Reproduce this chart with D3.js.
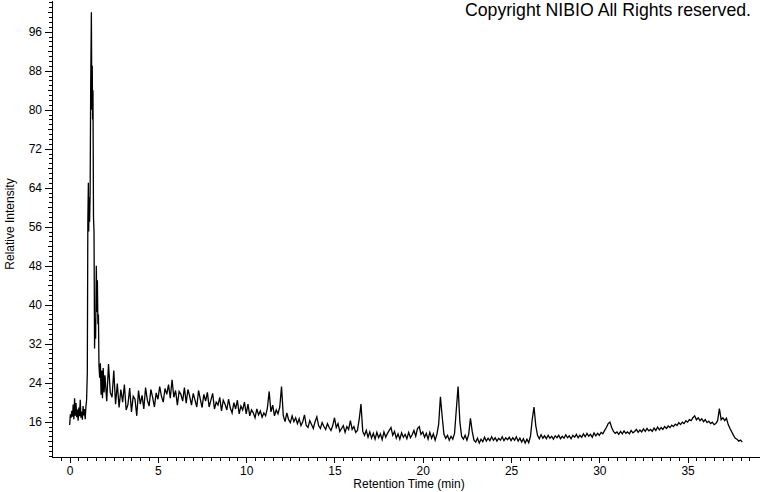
<!DOCTYPE html>
<html>
<head>
<meta charset="utf-8">
<script src="https://cdn.jsdelivr.net/npm/d3@7"></script>
<style>
  body { margin: 0; background: #fff; }
  svg { display: block; }
</style>
</head>
<body>
<div id="chart"></div>
<script>
var width = 760;
var height = 492;

// tick labels
var xTickLabels = [0, 5, 10, 15, 20, 25, 30, 35];
var yTickLabels = [16, 24, 32, 40, 48, 56, 64, 72, 80, 88, 96];

// start of the run, read point by point (min, relative intensity)
var earlyTimes = [0.00, 0.04, 0.08, 0.12, 0.16, 0.20, 0.24, 0.28, 0.32, 0.36,
  0.40, 0.44, 0.48, 0.52, 0.56, 0.60, 0.64, 0.68, 0.72, 0.76,
  0.80, 0.84, 0.88, 0.92, 0.96, 1.00, 1.03, 1.06, 1.08, 1.10,
  1.13, 1.16, 1.19, 1.23, 1.26, 1.28, 1.30, 1.32, 1.35, 1.38,
  1.41, 1.44, 1.47, 1.51, 1.54, 1.57, 1.60, 1.63, 1.66, 1.70,
  1.74, 1.78, 1.82, 1.86, 1.90, 1.95];
var earlyValues = [15.3, 17.5, 16.8, 18.2, 17.0, 19.5, 16.5, 20.8, 17.2, 19.8,
  16.9, 18.5, 16.2, 18.9, 17.1, 20.5, 16.8, 18.0, 16.4, 19.2,
  17.3, 18.6, 16.5, 19.0, 20.5, 26.0, 57.0, 65.0, 55.0, 62.0,
  57.0, 63.0, 84.0, 100.0, 80.0, 89.0, 78.0, 84.0, 58.0, 55.0,
  31.0, 37.0, 33.0, 48.0, 38.5, 45.0, 36.0, 38.0, 27.6, 25.0,
  28.0, 21.5, 26.5, 20.8, 27.0, 22.0];

// rest of the run, one reading every 0.1 min from 2.0 min
var scanStart = 2.0;
var scanStep = 0.1;
var scanValues = [
  25.5, 20.2, 27.8, 22.0, 21.0, 26.5, 19.6, 23.8, 18.9, 22.6,   // 2
  20.0, 23.6, 18.4, 19.5, 22.9, 18.0, 21.2, 20.6, 17.2, 22.4,   // 3
  19.6, 21.4, 18.6, 23.0, 20.4, 19.2, 22.6, 21.0, 19.0, 21.9,   // 4
  20.6, 23.2, 21.2, 20.0, 22.8, 21.6, 23.6, 20.8, 24.6, 21.0,   // 5
  22.4, 19.4, 22.2, 21.6, 20.2, 23.0, 19.8, 22.6, 21.2, 19.4,   // 6
  21.8, 20.4, 19.0, 22.4, 20.6, 18.9, 21.6, 20.2, 22.0, 19.0,   // 7
  20.4, 21.8, 18.6, 20.0, 19.4, 21.0, 18.2, 20.4, 19.6, 18.4,   // 8
  20.6, 18.8, 17.8, 19.9, 18.6, 20.4, 17.6, 19.2, 18.4, 20.0,   // 9
  17.6, 19.6, 17.2, 18.4, 17.8, 16.8, 18.6, 17.4, 18.2, 16.9,   // 10
  17.8, 17.2, 18.8, 22.2, 18.0, 19.4, 17.2, 18.4, 17.6, 19.0,   // 11
  23.2, 17.2, 16.0, 17.8, 16.4, 15.8, 17.2, 16.0, 16.8, 15.6,   // 12
  16.6, 15.2, 16.0, 17.4, 15.2, 14.8, 16.2, 15.4, 14.6, 16.0,   // 13
  17.0, 15.2, 14.6, 15.8, 15.0, 14.4, 15.6, 14.8, 14.2, 15.2,   // 14
  16.8, 14.8, 15.6, 14.0, 14.6, 15.2, 13.8, 15.0, 14.4, 16.2,   // 15
  14.4, 15.0, 13.8, 14.2, 16.5, 19.6, 14.0, 13.2, 14.2, 12.8,   // 16
  13.9, 12.6, 13.6, 12.4, 13.8, 12.7, 13.5, 12.3, 13.9, 12.8,   // 17
  13.6, 14.2, 14.8, 13.2, 14.0, 12.6, 13.5, 12.4, 13.7, 12.8,   // 18
  13.4, 12.5, 13.8, 12.7, 13.3, 14.2, 13.0, 14.6, 15.0, 13.4,   // 19
  13.9, 12.8, 13.6, 12.4, 13.8, 12.6, 13.5, 12.2, 13.4, 15.5,   // 20
  21.1, 17.0, 13.4, 12.6, 13.2, 12.2, 13.0, 12.4, 13.6, 18.5,   // 21
  23.2, 16.0, 13.0, 12.4, 13.2, 12.2, 13.4, 16.7, 14.0, 12.2,   // 22
  11.8, 12.6, 11.6, 12.4, 11.9, 12.8, 12.0, 12.6, 12.1, 12.9,   // 23
  12.2, 12.7, 12.0, 12.6, 12.2, 12.9, 12.1, 12.7, 12.3, 12.8,   // 24
  12.1, 12.7, 12.2, 12.9, 12.0, 12.6, 11.8, 12.5, 11.6, 12.4,   // 25
  11.7, 13.0, 16.5, 19.0, 15.2, 13.2, 12.5, 13.3, 12.6, 13.1,   // 26
  12.5, 13.2, 12.6, 13.0, 12.4, 13.1, 12.7, 13.2, 12.5, 13.0,   // 27
  12.6, 13.3, 12.7, 13.1, 12.5, 13.2, 12.8, 13.4, 12.7, 13.2,   // 28
  12.8, 13.5, 12.9, 13.6, 13.0, 13.4, 12.8, 13.7, 13.1, 13.6,   // 29
  13.2, 13.8, 13.5, 14.2, 14.8, 15.6, 15.9, 14.8, 14.0, 13.6,   // 30
  13.9, 13.4, 14.0, 13.5, 14.1, 13.6, 13.9, 13.5, 14.2, 13.7,   // 31
  14.0, 14.4, 13.8, 14.3, 13.9, 14.5, 14.0, 14.6, 14.1, 14.4,   // 32
  14.0, 14.7, 14.2, 14.9, 14.3, 14.8, 14.4, 15.0, 14.6, 15.1,   // 33
  14.8, 15.3, 15.0, 15.5, 15.2, 15.8, 15.4, 15.9, 15.6, 16.2,   // 34
  15.9, 16.4, 16.2, 16.8, 17.2, 16.4, 16.8, 16.2, 16.6, 16.0,   // 35
  16.4, 15.8, 16.1, 15.6, 15.9, 15.4, 15.6, 16.2, 18.7, 16.4,   // 36
  16.8, 16.2, 16.7, 15.4, 14.6, 13.9, 13.2, 12.6, 12.4, 12.0,   // 37
  12.2, 11.8                                                    // 38
];

var trace = earlyTimes.map(function(t, i) {
  return { t: t, v: earlyValues[i] };
}).concat(scanValues.map(function(v, i) {
  return { t: scanStart + i * scanStep, v: v };
}));

var xScale = d3.scaleLinear()
  .domain([-1, 39.1])
  .range([52, 760]);

var yScale = d3.scaleLinear()
  .domain([8.75, 102.5])
  .range([457, 0]);

var svg = d3.select("#chart")
  .append("svg")
  .attr("width", width)
  .attr("height", height)
  .style("font-family", "'Liberation Sans', Arial, sans-serif");

svg.append("rect")
  .attr("width", width)
  .attr("height", height)
  .attr("fill", "#fff");

////////////////////////// axes //////////////////////////

function styleAxis(g) {
  g.attr("font-family", null).attr("font-size", null);
  g.selectAll("path, line").attr("stroke", "#000").attr("shape-rendering", "crispEdges");
  g.selectAll("text").attr("fill", "#000").style("font-size", "12px");
}

// minor ticks
svg.append("g")
  .attr("transform", "translate(0,457)")
  .call(d3.axisBottom(xScale)
    .tickValues(d3.range(-0.5, 39, 0.5))
    .tickSize(4).tickSizeOuter(0).tickFormat(""))
  .call(styleAxis);

svg.append("g")
  .attr("transform", "translate(52,0)")
  .call(d3.axisLeft(yScale)
    .tickValues(d3.range(9, 103, 1))
    .tickSize(3).tickSizeOuter(0).tickFormat(""))
  .call(styleAxis);

svg.append("g")
  .attr("transform", "translate(52,0)")
  .call(d3.axisLeft(yScale)
    .tickValues(d3.range(12, 101, 4))
    .tickSize(4).tickSizeOuter(0).tickFormat(""))
  .call(styleAxis);

// major ticks with labels
svg.append("g")
  .attr("transform", "translate(0,457)")
  .call(d3.axisBottom(xScale)
    .tickValues(xTickLabels)
    .tickSize(6).tickSizeOuter(0).tickPadding(3))
  .call(styleAxis);

svg.append("g")
  .attr("transform", "translate(52,0)")
  .call(d3.axisLeft(yScale)
    .tickValues(yTickLabels)
    .tickSize(7).tickSizeOuter(0).tickPadding(3))
  .call(styleAxis);

////////////////////////// trace //////////////////////////

var line = d3.line()
  .x(function(d) { return xScale(d.t); })
  .y(function(d) { return yScale(d.v); });

svg.append("path")
  .datum(trace)
  .attr("d", line)
  .attr("fill", "none")
  .attr("stroke", "#000")
  .attr("stroke-width", 1.3)
  .attr("stroke-linejoin", "miter");

////////////////////////// labels //////////////////////////

svg.append("text")
  .attr("x", 409)
  .attr("y", 488)
  .attr("text-anchor", "middle")
  .style("font-size", "12px")
  .text("Retention Time (min)");

svg.append("text")
  .attr("transform", "translate(14,224) rotate(-90)")
  .attr("text-anchor", "middle")
  .style("font-size", "12px")
  .text("Relative Intensity");

svg.append("text")
  .attr("x", 751)
  .attr("y", 16)
  .attr("text-anchor", "end")
  .style("font-size", "17.7px")
  .text("Copyright NIBIO All Rights reserved.");
</script>
</body>
</html>
